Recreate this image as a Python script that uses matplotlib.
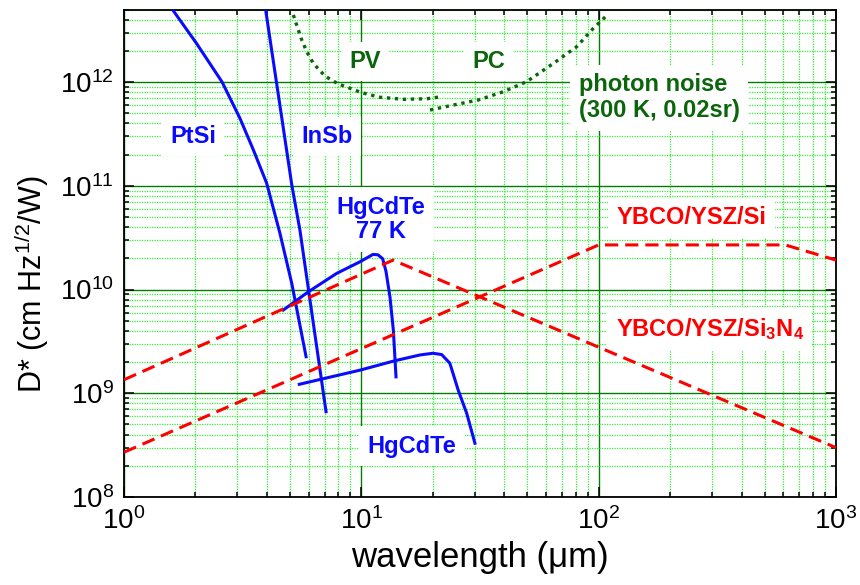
import matplotlib
matplotlib.use("Agg")
import matplotlib.pyplot as plt
from matplotlib.ticker import LogLocator, NullFormatter

plt.rcParams['font.family'] = ['Liberation Sans', 'DejaVu Sans']
plt.rcParams['mathtext.fontset'] = 'custom'
plt.rcParams['mathtext.rm'] = 'Liberation Sans'
plt.rcParams['mathtext.it'] = 'Liberation Sans:italic'
plt.rcParams['mathtext.bf'] = 'Liberation Sans:bold'

# --- data (wavelength in um, D* in cm Hz^1/2 / W) ---
ptsi_x = [1.6, 2.02, 2.59, 3.08, 3.51, 3.99, 4.54, 5.09, 5.85]
ptsi_y = [5.0e12, 2.36e12, 1.0e12, 4.47e11, 2.21e11, 1.06e11, 3.48e10, 1.15e10, 2.25e9]

insb_x = [3.95, 5.1, 5.51, 7.1]
insb_y = [5.0e12, 1.0e11, 3.75e10, 6.64e8]

hgcdte77_x = [4.69, 5.98, 7.87, 9.87, 11.2, 11.75, 12.3, 12.7, 13.2, 13.64, 14.0]
hgcdte77_y = [6.34e9, 9.5e9, 1.43e10, 1.85e10, 2.18e10, 2.16e10, 1.98e10, 1.5e10,
              8.5e9, 4.07e9, 1.44e9]

hgcdte_x = [5.48, 6.81, 9.87, 13.87, 17.67, 20.05, 21.8, 23.6, 25.6, 27.8, 30.1]
hgcdte_y = [1.22e9, 1.37e9, 1.67e9, 2.06e9, 2.34e9, 2.43e9, 2.36e9, 1.95e9,
            1.07e9, 6.4e8, 3.3e8]

ybco_sin_x = [1, 13.6, 1000]
ybco_sin_y = [1.35e9, 1.92e10, 2.99e8]

ybco_si_x = [1, 100, 611, 1000]
ybco_si_y = [2.7e8, 2.69e10, 2.69e10, 1.92e10]

pv_x = [5.17, 5.34, 5.61, 5.89, 6.28, 7.03, 8.0, 10.04, 11.99, 15.03, 18.86, 21.8]
pv_y = [4.43e12, 3.54e12, 2.54e12, 1.96e12, 1.51e12, 1.14e12, 9.57e11, 7.89e11,
        7.13e11, 6.81e11, 6.9e11, 7.22e11]

pc_x = [19.47, 24.4, 31.1, 39.6, 49.8, 64.4, 80.8, 94.9, 109.8]
pc_y = [5.37e11, 6.0e11, 6.71e11, 8.05e11, 1.01e12, 1.51e12, 2.19e12, 3.29e12, 4.52e12]

blue = '#0a0aff'
red = '#ff0000'
dgreen = '#0b650b'

fig = plt.figure(figsize=(8.6, 5.85), dpi=100)
ax = fig.add_axes([124 / 860, 1 - 497 / 585, (836 - 124) / 860, (497 - 9.5) / 585])
ax.set_xscale('log')
ax.set_yscale('log')
ax.set_xlim(1, 1000)
ax.set_ylim(1e8, 5e12)

ax.xaxis.set_minor_locator(LogLocator(base=10, subs=range(2, 10), numticks=20))
ax.yaxis.set_minor_locator(LogLocator(base=10, subs=range(2, 10), numticks=20))
ax.xaxis.set_minor_formatter(NullFormatter())
ax.yaxis.set_minor_formatter(NullFormatter())

ax.grid(which='major', color='#008000', lw=1.0, ls='-', zorder=0)
ax.grid(which='minor', color='#33ee33', lw=0.9, ls=(0, (1, 1)), zorder=0)
ax.set_axisbelow(True)

ax.tick_params(which='both', direction='in', top=True, right=True, labelsize=20,
               width=1.1, color='black')
ax.tick_params(which='major', length=7, pad=7)
ax.tick_params(which='minor', length=3.5)
for sp in ax.spines.values():
    sp.set_linewidth(1.3)

lw = 2.2
ax.plot(ptsi_x, ptsi_y, color=blue, lw=lw, zorder=4)
ax.plot(insb_x, insb_y, color=blue, lw=lw, zorder=4)
ax.plot(hgcdte77_x, hgcdte77_y, color=blue, lw=lw, zorder=4)
ax.plot(hgcdte_x, hgcdte_y, color=blue, lw=lw, zorder=4)
ax.plot(ybco_sin_x, ybco_sin_y, color=red, lw=lw, dashes=(4.3, 2.3), zorder=4)
ax.plot(ybco_si_x, ybco_si_y, color=red, lw=lw, dashes=(4.3, 2.3), zorder=4)
ax.plot(pv_x, pv_y, color=dgreen, lw=2.4, dashes=(1, 1.4), zorder=4)
ax.plot(pc_x, pc_y, color=dgreen, lw=2.4, dashes=(1, 1.4), zorder=4)

box = dict(boxstyle='square,pad=0.35', fc='white', ec='none')
kw = dict(fontsize=17, fontweight='bold', ha='center', va='center', bbox=box, zorder=3)
ax.text(10.36, 1.57e12, 'PV', color=dgreen, **kw)
ax.text(34.3, 1.58e12, 'PC', color=dgreen, **kw)
ax.text(179.6, 7.08e11, 'photon noise\n(300 K, 0.02sr)', color=dgreen,
        multialignment='left', linespacing=1.2, **kw)
ax.text(1.95, 2.97e11, 'PtSi', color=blue, **kw)
ax.text(7.15, 2.97e11, 'InSb', color=blue, **kw)
ax.text(12.1, 4.73e10, 'HgCdTe\n77 K', color=blue, linespacing=1.1, **kw)
ax.text(16.35, 3.1e8, 'HgCdTe', color=blue, **kw)
ax.text(246, 4.89e10, 'YBCO/YSZ/Si', color=red, **kw)
ax.text(294, 4.2e9, r'YBCO/YSZ/Si$_{\mathbf{3}}$N$_{\mathbf{4}}$', color=red, **kw)

ax.set_xlabel('wavelength (μm)', fontsize=25, labelpad=5)
ax.set_ylabel(r'D* (cm Hz$^{1/2}$/W)', fontsize=22)
ax.yaxis.set_label_coords(-0.102, 0.437)

fig.savefig('out.png', dpi=100)
